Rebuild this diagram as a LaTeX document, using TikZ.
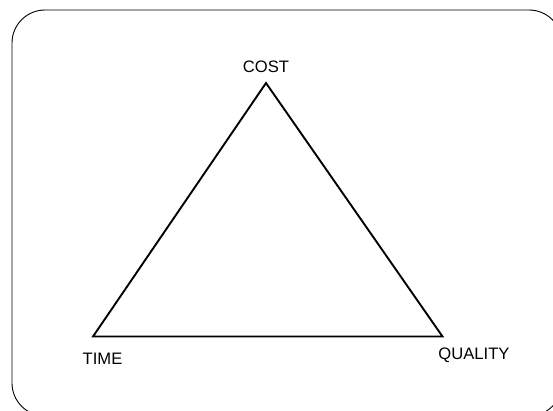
\documentclass[tikz,border=0pt]{standalone}
\usepackage{fontspec}
\setmainfont{Liberation Sans}
\usetikzlibrary{calc}

\begin{document}
\begin{tikzpicture}[
    x=1pt, y=-1pt,
    frame/.style={draw=black, line width=0.9pt, rounded corners=33pt},
    edge/.style={draw=black, line width=1.9pt, line join=miter},
    corner/.style={font=\fontsize{16.6}{19}\selectfont, anchor=base, inner sep=0pt}
  ]
    \useasboundingbox (0,0) rectangle (553,410);
    \clip (0,0) rectangle (553,410);
    \draw[frame] (12,10) rectangle (562,416);

    \coordinate (cost)    at (266, 83);
    \coordinate (time)    at (93, 336.5);
    \coordinate (quality) at (442.5, 336.5);

    \draw[edge] (cost) -- (time) -- (quality) -- cycle;

    \node[corner] (costlabel)    at (266, 72)    {COST};
    \node[corner] (timelabel)    at (102.5, 364) {TIME};
    \node[corner] (qualitylabel) at (474, 359)   {QUALITY};
  \end{tikzpicture}
\end{document}
